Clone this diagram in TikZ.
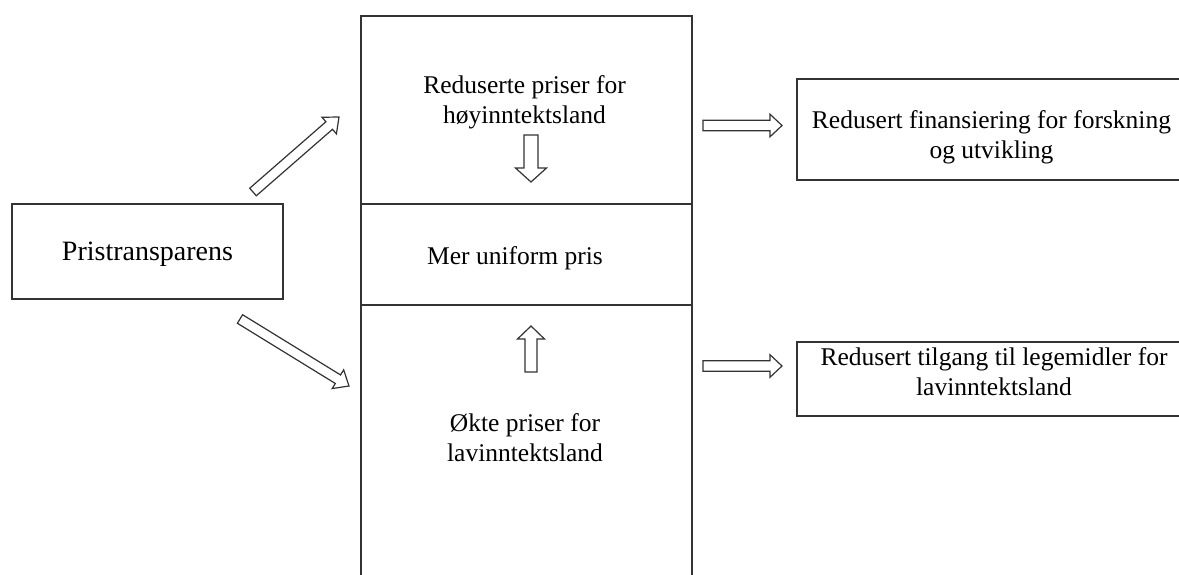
\documentclass[tikz,border=0pt]{standalone}
\usepackage{fontspec}
\setmainfont{Liberation Serif}
\usetikzlibrary{calc}
\tikzset{
  boxline/.style={draw=black!80, line width=1.3pt},
  arrowline/.style={draw=black!80, line width=1.2pt, fill=white, line join=miter},
  txt/.style={align=center, inner sep=0pt, font=\fontsize{25.5}{30}\selectfont},
  bigtxt/.style={font=\fontsize{28}{32}\selectfont}
}
% block arrow: from, to, shaft half width, head half width, head length
\newcommand\blockarrow[5]{%
  \coordinate (ba-hb) at ($(#2)!#5!(#1)$);
  \draw[arrowline] ($(#1)!#3!90:(#2)$) -- ($(ba-hb)!#3!90:(#2)$) -- ($(ba-hb)!#4!90:(#2)$)
     -- (#2) -- ($(ba-hb)!#4!-90:(#2)$) -- ($(ba-hb)!#3!-90:(#2)$) -- ($(#1)!#3!-90:(#2)$) -- cycle;
}
\begin{document}
\begin{tikzpicture}[x=1pt,y=-1pt]
\clip (0,0) rectangle (1179,574);
\fill[white] (0,0) rectangle (1179,574);

% Pristransparens
\node[boxline, bigtxt, text depth=0pt, minimum width=271pt, minimum height=95pt, inner sep=0pt] (prist) at (147.5,251.5) {Pristransparens};

% central column
\node[boxline, minimum width=331pt, minimum height=188pt, inner sep=0pt] (top) at (526.5,110) {};
\node[boxline, minimum width=331pt, minimum height=101pt, inner sep=0pt] (mid) at (526.5,254.5) {};
\node[boxline, minimum width=331pt, minimum height=300pt, inner sep=0pt] (bot) at (526.5,455) {};

\node[txt] (toptxt) at (524.5,102) {Reduserte priser for\\høyinntektsland};
\node[txt] (midtxt) at (515,258) {Mer uniform pris};
\node[txt] (bottxt) at (525,438) {Økte priser for\\lavinntektsland};

% right boxes
\node[boxline, minimum width=389pt, minimum height=101pt, inner sep=0pt] (fin) at (991.5,129.5) {};
\node[txt] (fintxt) at (991.5,137) {Redusert finansiering for forskning\\og utvikling};
\node[boxline, minimum width=389pt, minimum height=74pt, inner sep=0pt] (til) at (991.5,379) {};
\node[txt] (tiltxt) at (994,372) {Redusert tilgang til legemidler for\\lavinntektsland};

% arrow end points
\coordinate (a1s) at (253,192);  \coordinate (a1e) at (339,117);
\coordinate (a2s) at (240,319);  \coordinate (a2e) at (349,386);
\coordinate (a3s) at (531,135);  \coordinate (a3e) at (531,182);
\coordinate (a4s) at (531,372);  \coordinate (a4e) at (531,326);
\coordinate (a5s) at (703,125.5);\coordinate (a5e) at (782,125.5);
\coordinate (a6s) at (703,366);  \coordinate (a6e) at (782,366);

\blockarrow{a1s}{a1e}{5pt}{11pt}{13pt}
\blockarrow{a2s}{a2e}{5pt}{11pt}{13pt}
\blockarrow{a3s}{a3e}{7pt}{15.5pt}{14pt}
\blockarrow{a4s}{a4e}{6pt}{13.5pt}{13pt}
\blockarrow{a5s}{a5e}{5.3pt}{11.3pt}{12pt}
\blockarrow{a6s}{a6e}{5.3pt}{11.3pt}{12pt}
\end{tikzpicture}
\end{document}
